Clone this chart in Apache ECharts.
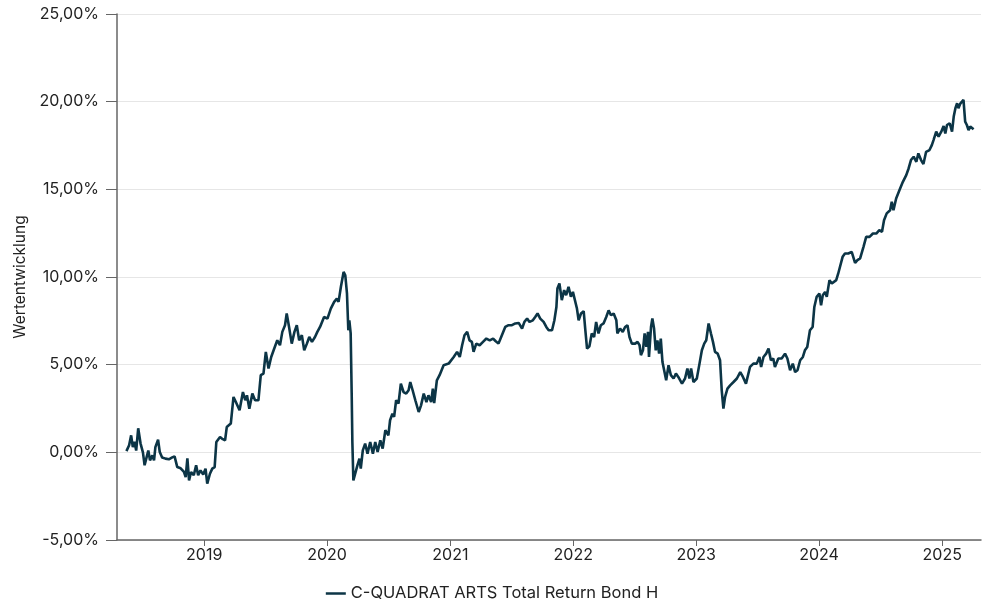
<!DOCTYPE html>
<html>
<head>
<meta charset="utf-8">
<script src="https://cdn.jsdelivr.net/npm/echarts@6/dist/echarts.min.js"></script>
<style>
  html, body { margin: 0; padding: 0; background: #fff; }
  #chart { width: 984px; height: 607px; }
</style>
</head>
<body>
<div id="chart"></div>
<script>
const seriesName = 'C-QUADRAT ARTS Total Return Bond H'

const dates = [
  '2018-05-15','2018-05-23','2018-05-29','2018-06-03','2018-06-08','2018-06-13','2018-06-19','2018-06-26',
  '2018-07-03','2018-07-08','2018-07-14','2018-07-19','2018-07-24','2018-07-31','2018-08-05','2018-08-09',
  '2018-08-17','2018-08-22','2018-08-29','2018-09-08','2018-09-18','2018-09-28','2018-10-05','2018-10-13',
  '2018-10-23','2018-11-02','2018-11-07','2018-11-12','2018-11-17','2018-11-23','2018-12-01','2018-12-08',
  '2018-12-14','2018-12-21','2018-12-29',
  '2019-01-05','2019-01-10','2019-01-18','2019-01-25','2019-02-01','2019-02-06','2019-02-17','2019-02-25',
  '2019-03-04','2019-03-09','2019-03-21','2019-03-29','2019-04-05','2019-04-16','2019-04-26','2019-05-03',
  '2019-05-08','2019-05-15','2019-05-24','2019-06-01','2019-06-11','2019-06-18','2019-06-26','2019-07-03',
  '2019-07-11','2019-07-19','2019-07-28','2019-08-06','2019-08-14','2019-08-21','2019-08-29','2019-09-03',
  '2019-09-10','2019-09-18','2019-09-26','2019-10-03','2019-10-10','2019-10-18','2019-10-25','2019-11-02',
  '2019-11-09','2019-11-17','2019-11-26','2019-12-03','2019-12-11','2019-12-23',
  '2020-01-02','2020-01-12','2020-01-22','2020-01-30','2020-02-04','2020-02-11','2020-02-19','2020-02-24',
  '2020-02-29','2020-03-04','2020-03-07','2020-03-11','2020-03-14','2020-03-16','2020-03-19','2020-03-24',
  '2020-03-31','2020-04-06','2020-04-10','2020-04-16','2020-04-23','2020-04-30','2020-05-08','2020-05-16',
  '2020-05-23','2020-05-30','2020-06-07','2020-06-14','2020-06-22','2020-07-01','2020-07-06','2020-07-13',
  '2020-07-18','2020-07-24','2020-07-31','2020-08-07','2020-08-15','2020-08-23','2020-08-30','2020-09-04',
  '2020-09-11','2020-09-19','2020-09-29','2020-10-06','2020-10-14','2020-10-22','2020-10-28','2020-11-05',
  '2020-11-10','2020-11-14','2020-11-22','2020-11-30','2020-12-12','2020-12-27',
  '2021-01-11','2021-01-21','2021-01-29','2021-02-05','2021-02-12','2021-02-20','2021-02-27','2021-03-06',
  '2021-03-11','2021-03-19','2021-03-29','2021-04-08','2021-04-18','2021-04-28','2021-05-08','2021-05-15',
  '2021-05-24','2021-06-01','2021-06-13','2021-06-23','2021-07-03','2021-07-13','2021-07-23','2021-08-02',
  '2021-08-09','2021-08-17','2021-08-24','2021-09-03','2021-09-10','2021-09-17','2021-09-25','2021-10-05',
  '2021-10-13','2021-10-20','2021-10-30','2021-11-06','2021-11-12','2021-11-15','2021-11-21','2021-11-28',
  '2021-12-05','2021-12-11','2021-12-18','2021-12-25','2021-12-31',
  '2022-01-05','2022-01-12','2022-01-17','2022-01-24','2022-02-01','2022-02-06','2022-02-11','2022-02-18',
  '2022-02-25','2022-03-04','2022-03-10','2022-03-17','2022-03-24','2022-04-01','2022-04-09','2022-04-16',
  '2022-04-23','2022-05-01','2022-05-09','2022-05-12','2022-05-20','2022-05-28','2022-06-04','2022-06-11',
  '2022-06-17','2022-06-24','2022-07-04','2022-07-11','2022-07-17','2022-07-21','2022-07-27','2022-08-01',
  '2022-08-06','2022-08-11','2022-08-14','2022-08-20','2022-08-24','2022-08-29','2022-09-03','2022-09-08',
  '2022-09-13','2022-09-18','2022-09-23','2022-09-28','2022-10-04','2022-10-11','2022-10-18','2022-10-26',
  '2022-11-02','2022-11-09','2022-11-20','2022-11-29','2022-12-06','2022-12-12','2022-12-17','2022-12-24',
  '2023-01-03','2023-01-11','2023-01-18','2023-01-25','2023-01-31','2023-02-07','2023-02-14','2023-02-20',
  '2023-02-26','2023-03-06','2023-03-13','2023-03-18','2023-03-23','2023-03-28','2023-04-04','2023-04-12',
  '2023-04-22','2023-05-02','2023-05-12','2023-05-20','2023-05-29','2023-06-10','2023-06-20','2023-06-30',
  '2023-07-08','2023-07-13','2023-07-20','2023-07-28','2023-08-04','2023-08-11','2023-08-18','2023-08-23',
  '2023-09-02','2023-09-12','2023-09-22','2023-09-29','2023-10-07','2023-10-15','2023-10-22','2023-10-29',
  '2023-11-06','2023-11-14','2023-11-20','2023-11-27','2023-12-05','2023-12-13','2023-12-18','2023-12-25',
  '2024-01-02','2024-01-07','2024-01-12','2024-01-19','2024-01-24','2024-02-01','2024-02-08','2024-02-13',
  '2024-02-21','2024-02-27','2024-03-03','2024-03-11','2024-03-18','2024-03-28','2024-04-07','2024-04-12',
  '2024-04-17','2024-04-24','2024-05-02','2024-05-12','2024-05-20','2024-05-30','2024-06-09','2024-06-19',
  '2024-06-28','2024-07-06','2024-07-12','2024-07-20','2024-07-30','2024-08-04','2024-08-09','2024-08-17',
  '2024-08-27','2024-09-06','2024-09-16','2024-09-23','2024-09-30','2024-10-08','2024-10-16','2024-10-22',
  '2024-10-30','2024-11-06','2024-11-14','2024-11-24','2024-12-01','2024-12-06','2024-12-14','2024-12-21',
  '2024-12-29',
  '2025-01-05','2025-01-10','2025-01-15','2025-01-23','2025-01-30','2025-02-04','2025-02-09','2025-02-14',
  '2025-02-18','2025-02-23','2025-02-28','2025-03-05','2025-03-10','2025-03-15','2025-03-20','2025-03-25',
  '2025-03-30','2025-04-04'
]

// Wertentwicklung in %
const values = [
  0.07, 0.40, 0.97, 0.30, 0.60, 0.10, 1.37, 0.50,
  0.00, -0.74, -0.27, 0.10, -0.46, -0.17, -0.46, 0.30,
  0.72, 0.02, -0.29, -0.36, -0.40, -0.29, -0.23, -0.84,
  -0.91, -1.12, -1.41, -0.34, -1.60, -1.12, -1.31, -0.74,
  -1.31, -1.03, -1.26,
  -0.93, -1.79, -1.22, -0.93, -0.84, 0.59, 0.87, 0.75,
  0.69, 1.44, 1.64, 3.16, 2.87, 2.40, 3.44, 2.97,
  3.25, 2.49, 3.35, 2.97, 2.97, 4.40, 4.49, 5.73,
  4.78, 5.44, 5.92, 6.39, 6.11, 6.87, 7.25, 7.92,
  7.15, 6.20, 6.87, 7.25, 6.39, 6.68, 5.82, 6.20,
  6.58, 6.30, 6.58, 6.87, 7.15, 7.72,
  7.63, 8.20, 8.58, 8.77, 8.58, 9.44, 10.29, 10.10,
  9.06, 6.96, 7.53, 6.78, 3.35, 0.59, -1.60, -1.50,
  -0.74, -0.36, -0.93, 0.11, 0.50, -0.08, 0.59, -0.08,
  0.59, 0.02, 0.69, 0.21, 1.26, 0.97, 1.83, 2.21,
  2.02, 2.97, 2.78, 3.92, 3.44, 3.35, 3.54, 4.01,
  3.54, 2.97, 2.30, 2.68, 3.35, 2.87, 3.25, 2.87,
  3.63, 2.81, 4.11, 4.40, 4.97, 5.06,
  5.44, 5.73, 5.44, 6.11, 6.68, 6.87, 6.39, 6.30,
  5.73, 6.20, 6.11, 6.30, 6.49, 6.39, 6.49, 6.35,
  6.20, 6.58, 7.15, 7.25, 7.25, 7.35, 7.38, 7.06,
  7.44, 7.63, 7.44, 7.53, 7.72, 7.92, 7.63, 7.44,
  7.15, 6.96, 6.96, 7.53, 8.29, 9.34, 9.63, 8.68,
  9.25, 8.96, 9.44, 8.87, 9.15,
  9.06, 8.20, 7.53, 7.92, 8.05, 6.96, 5.92, 6.05,
  6.78, 6.58, 7.44, 6.78, 7.25, 7.35, 7.72, 8.10,
  7.82, 7.92, 7.53, 6.78, 7.06, 6.87, 7.15, 7.25,
  6.58, 6.20, 6.20, 6.30, 6.11, 5.54, 5.82, 6.78,
  6.01, 6.87, 5.44, 7.15, 7.63, 7.06, 5.82, 6.39,
  5.63, 6.49, 5.15, 5.06, 4.11, 4.97, 4.40, 4.21,
  4.49, 4.30, 3.92, 4.21, 4.78, 4.21, 4.78, 4.01,
  4.21, 5.06, 5.82, 6.20, 6.39, 7.35, 6.78, 6.30,
  5.73, 5.63, 5.25, 3.54, 2.49, 3.16, 3.63, 3.82,
  4.01, 4.21, 4.58, 4.30, 3.92, 4.87, 5.06, 5.06,
  5.44, 4.87, 5.44, 5.63, 5.92, 5.25, 5.35, 4.87,
  5.35, 5.35, 5.63, 5.35, 4.68, 5.06, 4.58, 4.68,
  5.25, 5.44, 5.82, 6.01, 6.96, 7.15, 8.29, 8.87,
  9.06, 8.39, 8.96, 9.15, 8.87, 9.82, 9.63, 9.53,
  9.82, 10.20, 10.29, 11.15, 11.34, 11.34, 11.43, 11.53,
  10.80, 10.96, 11.06, 11.72, 12.29, 12.29, 12.48, 12.48,
  12.67, 12.58, 13.24, 13.63, 13.81, 14.29, 13.81, 14.48,
  14.96, 15.43, 15.81, 16.19, 16.67, 16.86, 16.57, 17.05,
  16.67, 16.44, 17.14, 17.24, 17.52, 17.81, 18.29, 18.00,
  18.29,
  18.61, 18.19, 18.67, 18.77, 18.29, 19.15, 19.63, 19.91,
  19.63, 19.87, 19.81, 20.10, 18.86, 18.67, 18.38, 18.58,
  18.61, 18.42
]

const yTicks = [-5, 0, 5, 10, 15, 20, 25]

const chart = echarts.init(document.getElementById('chart'))

const fontFamily = 'Inter, "Noto Sans", sans-serif'
const textColor = '#222'
const axisColor = '#666'
const lineColor = '#0c3546'

const option = {
  animation: false,
  textStyle: { fontFamily },
  grid: { left: 117, right: 3, top: 14, bottom: 67 },
  legend: {
    bottom: 0,
    left: 'center',
    icon: 'path://M0,0 L20,0 L20,2.5 L0,2.5 Z',
    itemWidth: 20,
    itemHeight: 3,
    itemGap: 10,
    textStyle: { fontSize: 16.5, color: textColor, fontFamily },
    data: [seriesName]
  },
  xAxis: {
    type: 'time',
    min: '2018-04-17',
    max: '2025-04-26',
    minInterval: 365 * 24 * 3600 * 1000,
    maxInterval: 366 * 24 * 3600 * 1000,
    axisLine: { onZero: false, lineStyle: { color: axisColor, width: 1.5 } },
    axisTick: { show: true, length: 6, lineStyle: { color: axisColor } },
    axisLabel: {
      color: textColor,
      fontSize: 16,
      margin: 7,
      formatter: '{yyyy}'
    },
    splitLine: { show: false }
  },
  yAxis: {
    type: 'value',
    min: yTicks[0],
    max: yTicks[yTicks.length - 1],
    interval: 5,
    name: 'Wertentwicklung',
    nameLocation: 'middle',
    nameGap: 88,
    nameTextStyle: { color: textColor, fontSize: 15.5, fontFamily },
    axisLine: { show: true, lineStyle: { color: axisColor, width: 1.5 } },
    axisTick: { show: true, length: 11, lineStyle: { color: axisColor } },
    axisLabel: {
      color: textColor,
      fontSize: 16,
      margin: 18,
      formatter: v => v.toFixed(2).replace('.', ',') + '%'
    },
    splitLine: { show: true, lineStyle: { color: '#e6e6e6', width: 1 } }
  },
  series: [
    {
      name: seriesName,
      type: 'line',
      data: dates.map((d, i) => [d, values[i]]),
      showSymbol: false,
      symbol: 'none',
      lineStyle: { color: lineColor, width: 2.6 },
      itemStyle: { color: lineColor }
    }
  ]
}

chart.setOption(option)
</script>
</body>
</html>
